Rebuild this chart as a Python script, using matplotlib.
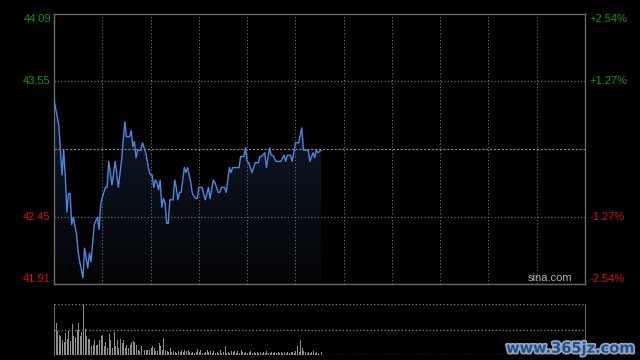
import numpy as np
import matplotlib
matplotlib.use('Agg')
import matplotlib.pyplot as plt
import matplotlib.patheffects as pe
from matplotlib.path import Path
from matplotlib.patches import PathPatch

# datos (minuto desde la apertura, precio)
minutos = [0, 3, 5, 6, 7, 8, 9, 10, 11, 12, 14, 15, 16, 18, 19, 21, 22, 23, 25, 27,
           28, 29, 30, 32, 33, 34, 36, 37, 38, 40, 42, 44, 45, 47, 48, 49, 50, 51, 52, 54,
           55, 57, 59, 60, 61, 62, 63, 64, 65, 66, 67, 68, 69, 70, 71, 72, 74, 75, 76, 77,
           78, 79, 81, 82, 83, 85, 86, 88, 89, 90, 92, 94, 96, 97, 99, 100, 102, 103, 104, 106,
           107, 109, 110, 111, 115, 116, 118, 119, 120, 121, 122, 123, 124, 125, 127, 128, 129, 131, 132, 134,
           135, 136, 138, 141, 143, 144, 145, 147, 148, 149, 150, 152, 154, 155, 158, 159, 161, 162, 163, 164,
           166]
precios = [43.40, 43.19, 42.79, 42.99, 42.79, 42.49, 42.64, 42.64, 42.39, 42.45, 42.31, 42.17, 42.09, 41.96, 42.20, 42.04, 42.16, 42.09, 42.39, 42.45,
           42.35, 42.55, 42.61, 42.69, 42.69, 42.90, 42.71, 42.80, 42.90, 42.69, 42.91, 43.22, 43.10, 43.10, 43.15, 43.02, 43.06, 42.93, 42.99, 42.99,
           43.05, 42.97, 42.83, 42.79, 42.79, 42.69, 42.75, 42.73, 42.67, 42.75, 42.53, 42.60, 42.57, 42.40, 42.40, 42.59, 42.59, 42.75, 42.69, 42.59,
           42.65, 42.65, 42.85, 42.81, 42.85, 42.73, 42.64, 42.60, 42.60, 42.69, 42.69, 42.59, 42.69, 42.60, 42.75, 42.73, 42.65, 42.65, 42.69, 42.69,
           42.65, 42.85, 42.81, 42.85, 42.85, 42.94, 42.94, 43.01, 42.90, 42.89, 42.85, 42.81, 42.85, 42.89, 42.89, 42.94, 42.94, 42.97, 42.85, 43.01,
           42.95, 42.95, 42.90, 42.90, 42.95, 42.90, 42.95, 42.95, 42.90, 42.97, 43.05, 43.05, 43.17, 42.99, 42.99, 42.90, 42.97, 42.93, 42.99, 42.97,
           42.99]

# volumen por minuto (escala relativa, 100 = maximo del panel)
volumen = [100, 62, 47, 40, 38, 30, 25, 43, 31, 47, 27, 60, 38, 35, 50, 62, 37, 45, 100,
           51, 38, 31, 31, 17, 20, 30, 20, 20, 30, 37, 40, 17, 25, 13, 42, 30, 13, 45, 17,
           30, 13, 31, 23, 29, 13, 20, 13, 20, 25, 27, 25, 20, 10, 7, 18, 18, 10, 9, 10,
           9, 13, 17, 13, 7, 7, 23, 17, 9, 33, 10, 7, 5, 13, 5, 7, 5, 3, 7, 5,
           9, 5, 9, 7, 9, 5, 3, 5, 3, 5, 11, 5, 9, 3, 3, 5, 9, 5, 7, 3,
           7, 3, 5, 3, 9, 3, 5, 18, 3, 5, 3, 7, 5, 7, 3, 7, 3, 9, 5, 3,
           5, 3, 5, 7, 3, 5, 3, 5, 3, 5, 3, 5, 3, 7, 3,
           3, 5, 3, 5, 3, 5, 3, 5, 3, 5, 3, 5, 3, 5, 5, 3, 7, 18, 5, 29,
           14, 7, 5, 3, 5, 3, 5, 7, 3, 5, 3, 9, 5]

cierre_previo = 43.00
etiquetas_izq = ['41.91', '42.45', '43.55', '44.09']
etiquetas_der = ['-2.54%', '-1.27%', '+1.27%', '+2.54%']
colores_etiq = ['#d81010', '#d81010', '#129a12', '#129a12']
total_min = 330  # sesion de HK: 5.5 horas

gris_borde = '#6a6a6a'
gris_grid = '#767676'

fig = plt.figure(figsize=(6.4, 3.6), dpi=100, facecolor='black')
ax = fig.add_axes([54/640, 1-284/360, 531/640, 270/360], facecolor='black')
axv = fig.add_axes([54/640, 5/360, 531/640, 51/360], facecolor='black')

ymin, ymax = float(etiquetas_izq[0]), float(etiquetas_izq[-1])
ax.set_xlim(0, total_min)
ax.set_ylim(ymin, ymax)

# relleno con degradado debajo de la linea
x = np.array(minutos, dtype=float)
y = np.array(precios)
verts = np.vstack([np.column_stack([x, y]), [[x[-1], ymin], [x[0], ymin], [x[0], y[0]]]])
clip = PathPatch(Path(verts), facecolor='none', edgecolor='none')
ax.add_patch(clip)
grad = np.linspace(1, 0, 256).reshape(-1, 1)
cmap = matplotlib.colors.LinearSegmentedColormap.from_list('g', ['#030405', '#0e1828'])
img = ax.imshow(grad, extent=[0, x[-1], ymin, 43.25], aspect='auto', cmap=cmap,
                origin='upper', zorder=1)
img.set_clip_path(clip)

ax.plot(x, y, color='#4f86df', lw=1.0, zorder=3)

# rejilla
for m in range(30, total_min, 30):
    ax.axvline(m, color=gris_grid, lw=0.8, ls=(0, (1, 2)), zorder=2)
for p in [float(etiquetas_izq[1]), float(etiquetas_izq[2])]:
    ax.axhline(p, color=gris_grid, lw=0.8, ls=(0, (1, 2)), zorder=2)
ax.axhline(cierre_previo, color='#8a8a8a', lw=0.8, ls=(0, (2, 1.5)), zorder=2)

for s in ax.spines.values():
    s.set_color(gris_borde)
    s.set_linewidth(1.0)
ax.set_xticks([])
ax.set_yticks([])

vas = ['bottom', 'center', 'center', 'top']
for lab, der, col, va in zip(etiquetas_izq, etiquetas_der, colores_etiq, vas):
    yy = float(lab)
    ax.text(-0.006, yy, lab, transform=ax.get_yaxis_transform(), ha='right', va=va,
            color=col, fontsize=8, family='Liberation Sans')
    ax.text(1.009, yy, der, transform=ax.get_yaxis_transform(), ha='left', va=va,
            color=col, fontsize=8, family='Liberation Sans')

ax.text(0.976, 0.005, 'sina.com', transform=ax.transAxes, ha='right', va='bottom',
        color='#b4b4b4', fontsize=8, family='Liberation Sans', zorder=4)

# panel de volumen
axv.set_xlim(0, total_min)
axv.set_ylim(0, 100)
axv.bar(np.arange(len(volumen)), volumen, width=0.62, color='#8e8e8e', align='edge',
        linewidth=0, antialiased=False)
for v in [0, 50, 100]:
    axv.axhline(v, color=gris_grid, lw=1.0, ls=(0, (1, 1.5)))
for k in ['top', 'bottom']:
    axv.spines[k].set_visible(False)
for k in ['left', 'right']:
    axv.spines[k].set_color(gris_borde)
axv.set_xticks([])
axv.set_yticks([])

# marca de agua
fig.text(0.992, 0.012, 'www.365jz.com', ha='right', va='bottom', color='#1d4f96',
         fontsize=10.5, fontweight='bold', family='DejaVu Sans',
         path_effects=[pe.withStroke(linewidth=2.5, foreground='#9aa6b8')])

fig.savefig('out.png', dpi=100, facecolor='black')
